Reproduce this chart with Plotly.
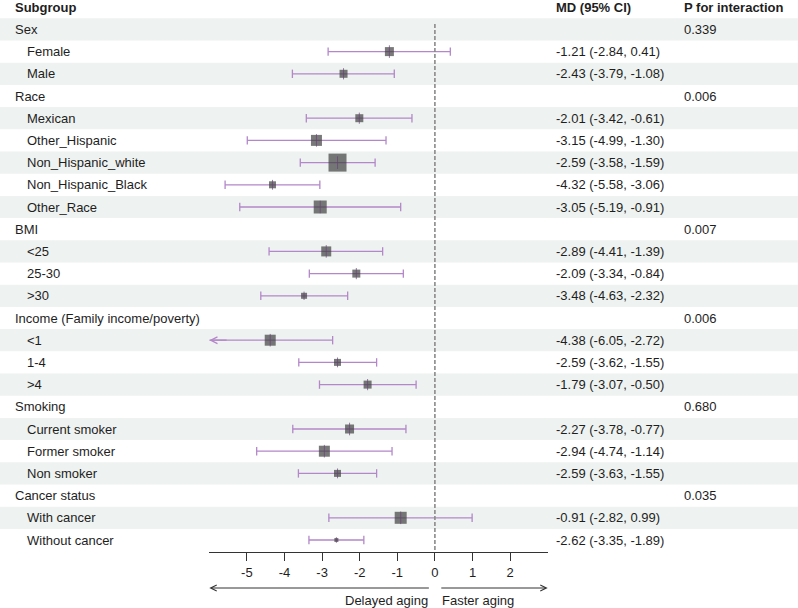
import plotly.graph_objects as go

# subgroup rows (group headers have no estimate)
labels = ["Sex", "Female", "Male",
          "Race", "Mexican", "Other_Hispanic", "Non_Hispanic_white", "Non_Hispanic_Black", "Other_Race",
          "BMI", "<25", "25-30", ">30",
          "Income (Family income/poverty)", "<1", "1-4", ">4",
          "Smoking", "Current smoker", "Former smoker", "Non smoker",
          "Cancer status", "With cancer", "Without cancer"]
is_group = [1, 0, 0, 1, 0, 0, 0, 0, 0, 1, 0, 0, 0, 1, 0, 0, 0, 1, 0, 0, 0, 1, 0, 0]
md = [None, -1.21, -2.43, None, -2.01, -3.15, -2.59, -4.32, -3.05, None, -2.89, -2.09, -3.48,
      None, -4.38, -2.59, -1.79, None, -2.27, -2.94, -2.59, None, -0.91, -2.62]
lower = [None, -2.84, -3.79, None, -3.42, -4.99, -3.58, -5.58, -5.19, None, -4.41, -3.34, -4.63,
         None, -6.05, -3.62, -3.07, None, -3.78, -4.74, -3.63, None, -2.82, -3.35]
upper = [None, 0.41, -1.08, None, -0.61, -1.30, -1.59, -3.06, -0.91, None, -1.39, -0.84, -2.32,
         None, -2.72, -1.55, -0.50, None, -0.77, -1.14, -1.55, None, 0.99, -1.89]
p_int = ["0.339", "", "", "0.006", "", "", "", "", "", "0.007", "", "", "",
         "0.006", "", "", "", "0.680", "", "", "", "0.035", "", ""]
weight = [0, 9, 8, 0, 8, 11, 18, 7, 13, 0, 10, 8, 6, 0, 11, 7, 8, 0, 9, 11, 7, 0, 12, 4]
x_ticks = [-5, -4, -3, -2, -1, 0, 1, 2]
x_tick_text = ["-5", "-4", "-3", "-2", "-1", "0", "1", "2"]

XMIN, XMAX = -6, 3
W, H = 798, 608
ROW0, ROWH = 29.4, 22.2   # pixel centre of first row, row height


def row_of(px):
    return (px - ROW0) / ROWH


CI_COL = "#b387c9"
TXT = "#1e1e1e"
FONT = "Liberation Sans, Arial, sans-serif"

rows = [i for i in range(len(labels)) if md[i] is not None]

fig = go.Figure()

# confidence interval lines
lx, ly = [], []
for i in rows:
    lx += [max(lower[i], XMIN), upper[i], None]
    ly += [i, i, None]
fig.add_scatter(x=lx, y=ly, mode="lines", line=dict(color=CI_COL, width=1.3),
                hoverinfo="skip", showlegend=False)

# caps
cx, cy = [], []
for i in rows:
    if lower[i] >= XMIN:
        cx.append(lower[i]); cy.append(i)
    cx.append(upper[i]); cy.append(i)
fig.add_scatter(x=cx, y=cy, mode="markers",
                marker=dict(symbol="line-ns", size=6, line=dict(color=CI_COL, width=1.3)),
                hoverinfo="skip", showlegend=False)

# point estimates
fig.add_scatter(x=[md[i] for i in rows], y=rows, mode="markers",
                marker=dict(symbol="square", size=[weight[i] for i in rows], color="#404040",
                            line=dict(width=0)),
                showlegend=False)
fig.add_scatter(x=[md[i] for i in rows], y=rows, mode="markers",
                marker=dict(symbol="line-ns", size=[min(weight[i], 9) for i in rows],
                            line=dict(color="#6a4479", width=1)),
                hoverinfo="skip", showlegend=False)

shapes = []
for i in range(0, len(labels), 2):
    shapes.append(dict(type="rect", xref="paper", yref="y", x0=0, x1=1, y0=i - 0.5, y1=i + 0.5,
                       fillcolor="#eef2f0", line=dict(width=0), layer="below"))
shapes.append(dict(type="line", xref="x", yref="y", x0=0, x1=0, y0=row_of(24), y1=row_of(552),
                   line=dict(color="#8a8a8a", width=1.6, dash="4px,2px")))

ann = []


def txt(x, y, s, bold=False, xref="paper", anchor="left"):
    ann.append(dict(x=x, y=y, xref=xref, yref="y", text="<b>%s</b>" % s if bold else s,
                    showarrow=False, xanchor=anchor, yanchor="middle",
                    font=dict(size=13, color=TXT, family=FONT)))


txt(12.7 / W, -1, "Subgroup", bold=True)
txt(554 / W, -1, "MD (95% CI)", bold=True)
txt(681.5 / W, -1, "P for interaction", bold=True)
for i, lab in enumerate(labels):
    txt((12.7 if is_group[i] else 25) / W, i, lab)
    if md[i] is not None:
        txt(554 / W, i, "%.2f (%.2f, %.2f)" % (md[i], lower[i], upper[i]))
    if p_int[i]:
        txt(681.5 / W, i, p_int[i])

# arrow head for CI running past the axis
for i in rows:
    if lower[i] < XMIN:
        ann.append(dict(x=XMIN, y=i, xref="x", yref="y", ax=XMIN + 0.5, ay=i, axref="x", ayref="y",
                        text="", showarrow=True, arrowhead=5, arrowsize=1.1, arrowwidth=1.2,
                        arrowcolor=CI_COL))

# direction arrows under the axis
ya = row_of(588)
ann.append(dict(x=XMIN, y=ya, xref="x", yref="y", ax=-0.12, ay=ya, axref="x", ayref="y", text="",
                showarrow=True, arrowhead=5, arrowsize=1.2, arrowwidth=1, arrowcolor="#333"))
ann.append(dict(x=XMAX, y=ya, xref="x", yref="y", ax=0.13, ay=ya, axref="x", ayref="y", text="",
                showarrow=True, arrowhead=5, arrowsize=1.2, arrowwidth=1, arrowcolor="#333"))
yt = row_of(600)
txt(-0.13, yt, "Delayed aging", xref="x", anchor="right")
txt(0.14, yt, "Faster aging", xref="x", anchor="left")

fig.update_layout(
    width=W, height=H, margin=dict(l=0, r=0, t=0, b=0),
    paper_bgcolor="white", plot_bgcolor="rgba(0,0,0,0)",
    shapes=shapes, annotations=ann,
    font=dict(family=FONT, size=13, color=TXT),
    xaxis=dict(domain=[209.3 / W, 547.7 / W], range=[XMIN, XMAX], anchor="free",
               position=1 - 552 / H, showline=True, linecolor="#333", linewidth=1,
               ticks="outside", ticklen=8, tickcolor="#333", tickvals=x_ticks,
               ticktext=x_tick_text, showgrid=False, zeroline=False,
               tickfont=dict(size=13, color=TXT)),
    yaxis=dict(domain=[0, 1], range=[row_of(H), row_of(0)], visible=False),
)

# drop the browser's default body margin so the figure sits at the page corner
fig.write_html("out.html", config={"displayModeBar": False},
               post_script="document.body.style.margin='0';")
